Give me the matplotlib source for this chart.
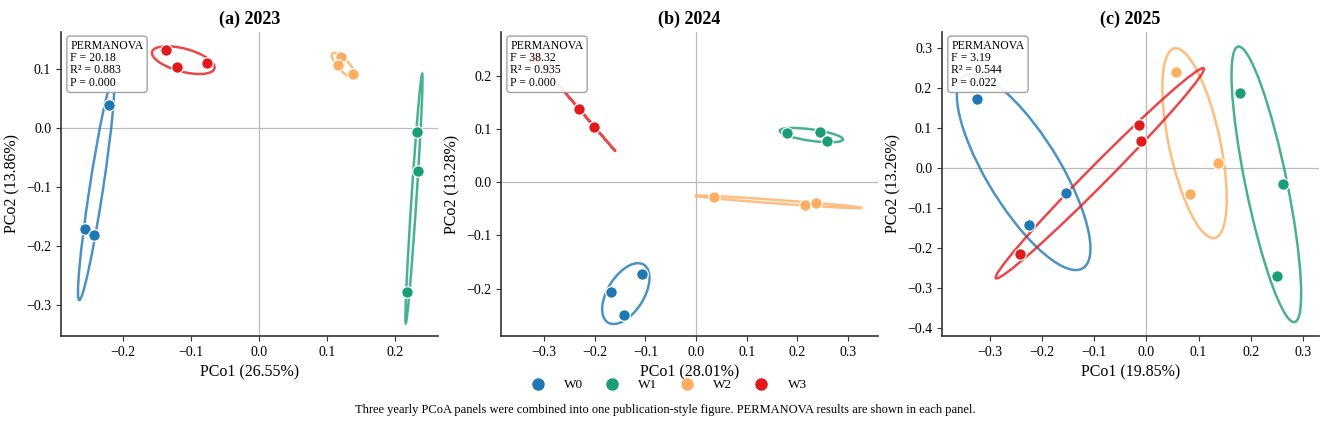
import numpy as np
import matplotlib
matplotlib.use("Agg")
import matplotlib.pyplot as plt
from matplotlib.patches import Ellipse
from matplotlib.lines import Line2D

## DATA ##
groups = ["W0", "W1", "W2", "W3"]
colors = ["#1f78b4", "#1b9e77", "#fdae61", "#e31a1c"]

titles = ["(a) 2023", "(b) 2024", "(c) 2025"]
pco1_var = [26.55, 28.01, 19.85]
pco2_var = [13.86, 13.28, 13.26]
perm_F = [20.18, 38.32, 3.19]
perm_R2 = [0.883, 0.935, 0.544]
perm_P = [0.000, 0.000, 0.022]

# PCo1 / PCo2 scores per year, per group (3 samples each)
x_2023 = {"W0": [-0.220, -0.255, -0.243], "W1": [0.232, 0.233, 0.218],
          "W2": [0.120, 0.116, 0.138], "W3": [-0.136, -0.121, -0.077]}
y_2023 = {"W0": [0.040, -0.171, -0.181], "W1": [-0.007, -0.073, -0.277],
          "W2": [0.120, 0.107, 0.091], "W3": [0.133, 0.103, 0.110]}

x_2024 = {"W0": [-0.168, -0.142, -0.106], "W1": [0.180, 0.244, 0.258],
          "W2": [0.036, 0.215, 0.236], "W3": [-0.231, -0.201, -0.318]}
y_2024 = {"W0": [-0.206, -0.249, -0.173], "W1": [0.093, 0.094, 0.078],
          "W2": [-0.028, -0.043, -0.040], "W3": [0.138, 0.104, 0.234]}

x_2025 = {"W0": [-0.325, -0.226, -0.155], "W1": [0.179, 0.261, 0.250],
          "W2": [0.056, 0.137, 0.084], "W3": [-0.243, -0.015, -0.010]}
y_2025 = {"W0": [0.174, -0.141, -0.061], "W1": [0.189, -0.039, -0.271],
          "W2": [0.240, 0.013, -0.065], "W3": [-0.214, 0.108, 0.068]}

xs = [x_2023, x_2024, x_2025]
ys = [y_2023, y_2024, y_2025]

# axis ranges per panel
xlims = [(-0.291, 0.263), (-0.385, 0.359), (-0.392, 0.331)]
ylims = [(-0.352, 0.163), (-0.289, 0.282), (-0.420, 0.341)]

caption = ("Three yearly PCoA panels were combined into one publication-style figure. "
           "PERMANOVA results are shown in each panel.")

plt.rcParams["font.family"] = ["Liberation Serif", "DejaVu Serif"]


def conf_ellipse(ax, x, y, color, n_std=1.5):
    cov = np.cov(x, y)
    vals, vecs = np.linalg.eigh(cov)
    order = vals.argsort()[::-1]
    vals, vecs = vals[order], vecs[:, order]
    angle = np.degrees(np.arctan2(vecs[1, 0], vecs[0, 0]))
    w, h = 2 * n_std * np.sqrt(np.maximum(vals, 0))
    e = Ellipse((np.mean(x), np.mean(y)), w, h, angle=angle, facecolor="none",
                edgecolor=color, lw=1.8, alpha=0.8, zorder=2)
    ax.add_patch(e)


fig = plt.figure(figsize=(13.31, 4.30), dpi=100)
lefts = [0.0458, 0.3764, 0.7077]

for i in range(3):
    ax = fig.add_axes([lefts[i], 0.2186, 0.2833, 0.707])
    ax.axhline(0, color="#bbbbbb", lw=0.9, zorder=1)
    ax.axvline(0, color="#bbbbbb", lw=0.9, zorder=1)
    for g, c in zip(groups, colors):
        gx, gy = np.array(xs[i][g]), np.array(ys[i][g])
        conf_ellipse(ax, gx, gy, c)
        ax.scatter(gx, gy, s=70, color=c, edgecolor="white", linewidth=0.9, zorder=3)
    ax.set_xlim(xlims[i])
    ax.set_ylim(ylims[i])
    ax.set_title(titles[i], fontsize=13, weight="bold")
    ax.set_xlabel(f"PCo1 ({pco1_var[i]:.2f}%)", fontsize=11.5)
    ax.set_ylabel(f"PCo2 ({pco2_var[i]:.2f}%)", fontsize=11.5)
    ax.tick_params(labelsize=10, length=3.5, color="#333333")
    ax.xaxis.set_major_locator(plt.MultipleLocator(0.1))
    ax.yaxis.set_major_locator(plt.MultipleLocator(0.1))
    for s in ["top", "right"]:
        ax.spines[s].set_visible(False)
    for s in ["left", "bottom"]:
        ax.spines[s].set_linewidth(1.2)
        ax.spines[s].set_color("#333333")
    stats = (f"PERMANOVA\nF = {perm_F[i]:.2f}\nR² = {perm_R2[i]:.3f}\nP = {perm_P[i]:.3f}")
    ax.text(0.025, 0.975, stats, transform=ax.transAxes, va="top", ha="left",
            fontsize=8.5, linespacing=1.05, zorder=5,
            bbox=dict(boxstyle="round,pad=0.3", facecolor="white",
                      edgecolor="#999999", alpha=0.9))

handles = [Line2D([], [], marker="o", ls="", color=c, markersize=8, label=g)
           for g, c in zip(groups, colors)]
fig.legend(handles=handles, loc="center", bbox_to_anchor=(0.5, 0.104), ncol=4,
           frameon=False, fontsize=9.5, handletextpad=1.0, columnspacing=1.2)
fig.text(0.5, 0.046, caption, ha="center", va="center", fontsize=9)

fig.savefig("out.png", dpi=100)
